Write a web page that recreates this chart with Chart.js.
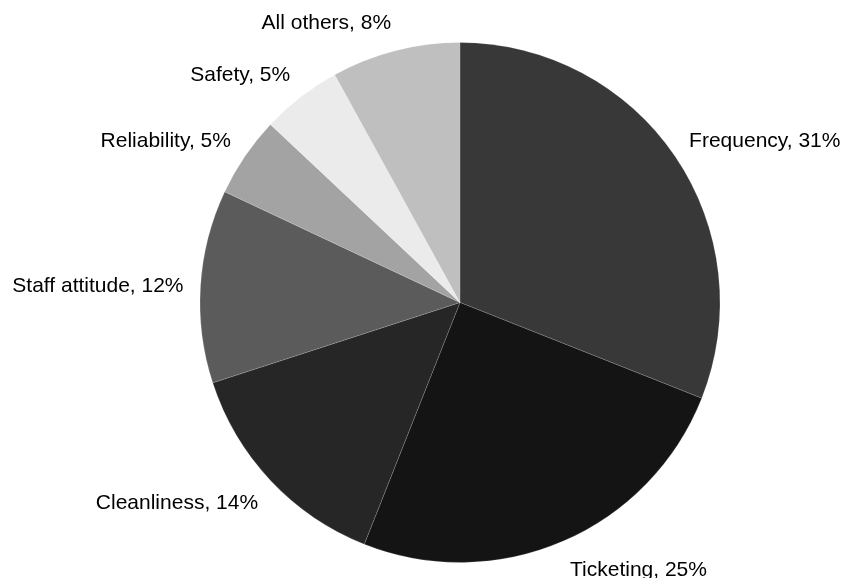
<!DOCTYPE html>
<html>
<head>
<meta charset="utf-8">
<script src="https://cdn.jsdelivr.net/npm/chart.js@4"></script>
<style>
  html, body { margin: 0; padding: 0; background: #fff; }
  .graph { width: 843px; height: 578px; }
</style>
</head>
<body>
<div class="graph">
  <canvas id="complaints-pie" width="843" height="578"></canvas>
</div>
<script>
const categories = ['Frequency', 'Ticketing', 'Cleanliness', 'Staff attitude', 'Reliability', 'Safety', 'All others'];
const shares = [31, 25, 14, 12, 5, 5, 8];
const sliceColors = ['#383838', '#141414', '#262626', '#5b5b5b', '#a3a3a3', '#ebebeb', '#bfbfbf'];

// labels sit just outside each slice, like the excel "outside end" labels
const outsideLabels = {
    id: 'outsideLabels',
    afterDatasetsDraw(chart) {
        const ctx = chart.ctx;
        const meta = chart.getDatasetMeta(0);
        ctx.save();
        ctx.font = '21px "Liberation Sans", Arial, sans-serif';
        ctx.fillStyle = '#000';
        ctx.textBaseline = 'middle';
        meta.data.forEach((arc, i) => {
            const p = arc.getProps(['x', 'y', 'startAngle', 'endAngle', 'outerRadius'], true);
            const mid = (p.startAngle + p.endAngle) / 2;
            const r = p.outerRadius + 17;
            const c = Math.cos(mid), s = Math.sin(mid);
            const x = p.x + c * r;
            const y = p.y + s * r + 13 * s + 2;
            ctx.textAlign = c > 0.1 ? 'left' : (c < -0.1 ? 'right' : 'center');
            ctx.fillText(categories[i] + ', ' + shares[i] + '%', x, y);
        });
        ctx.restore();
    }
};

new Chart(document.getElementById('complaints-pie'), {
    type: 'pie',
    data: {
        labels: categories,
        datasets: [{
            data: shares,
            backgroundColor: sliceColors,
            borderColor: 'rgba(255, 255, 255, 0.15)',
            borderWidth: 1
        }]
    },
    options: {
        responsive: false,
        animation: false,
        layout: {
            padding: { left: 199.5, right: 122.5, top: 42, bottom: 15 }
        },
        plugins: {
            legend: { display: false },
            tooltip: { enabled: false }
        }
    },
    plugins: [outsideLabels]
});
</script>
</body>
</html>
